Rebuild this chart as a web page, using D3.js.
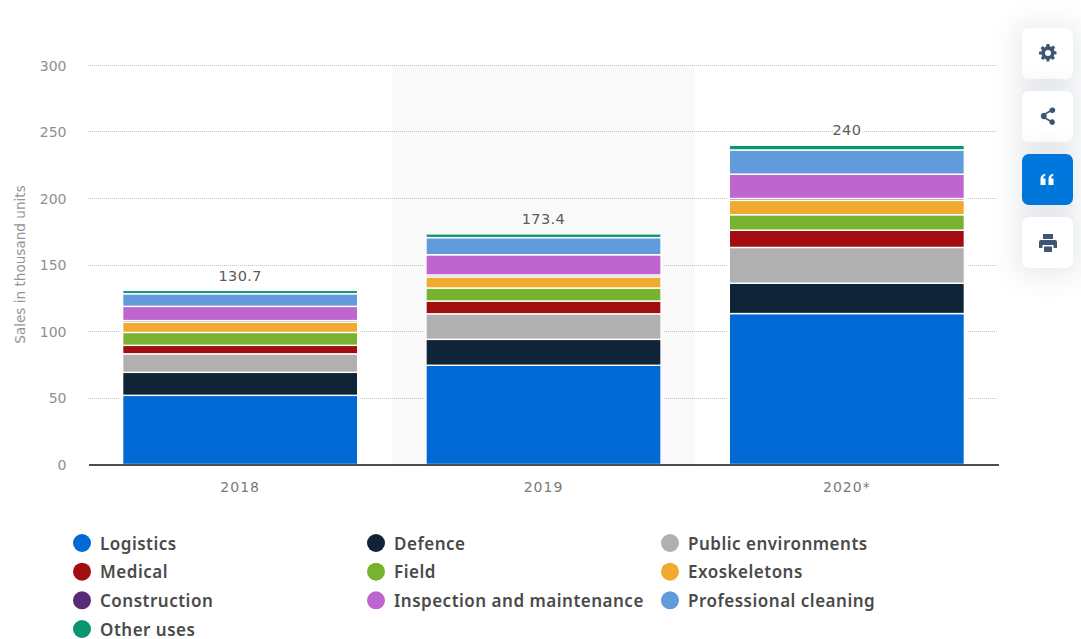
<!DOCTYPE html>
<html>
<head>
<meta charset="utf-8">
<title>Service robot sales by application</title>
<script src="https://cdn.jsdelivr.net/npm/d3@7/dist/d3.min.js"></script>
<style>
  html, body { margin: 0; padding: 0; background: #fff; overflow: hidden; }
  #stage { position: relative; width: 1081px; height: 639px; }
  svg { position: absolute; left: 0; top: 0; }
  .tool {
    position: absolute; left: 1022px; width: 51px; height: 51px; border-radius: 7px;
    background: #fff; box-shadow: 0 2px 28px 6px rgba(40,60,90,.11);
  }
  .tool.active { background: #0077dc; }
  .tool svg { left: 15.5px; top: 15.5px; }
</style>
</head>
<body>
<div id="stage"></div>
<script>
// Sales per year and application, thousand units
const years = ["2018", "2019", "2020*"];
const totals = [130.7, 173.4, 240];
const seriesNames = ["Logistics", "Defence", "Public environments", "Medical", "Field", "Exoskeletons",
  "Construction", "Inspection and maintenance", "Professional cleaning", "Other uses"];
const seriesColors = ["#0069d4", "#0f2437", "#b0b0b0", "#a20d12", "#78b22f", "#efaa2f",
  "#5a2a77", "#bf65cf", "#629bdc", "#08966f"];
const logistics = [52, 74.6, 113.5];
const defence = [17.3, 19.5, 22.8];
const publicEnvironments = [13.9, 19.2, 26.9];
const medical = [6.4, 9.6, 13];
const field = [9.7, 9.8, 11.6];
const exoskeletons = [7.6, 8.4, 10.8];
const construction = [1.3, 1.4, 1.4];
const inspection = [10.7, 15.2, 18.3];
const cleaning = [9.5, 12.9, 18.2];
const otherUses = [2.5, 2.8, 3.5];
const yTicks = [0, 50, 100, 150, 200, 250, 300];

const seriesValues = [logistics, defence, publicEnvironments, medical, field, exoskeletons,
  construction, inspection, cleaning, otherUses];
const rows = years.map((year, i) => {
  const row = { year };
  seriesNames.forEach((name, s) => { row[name] = seriesValues[s][i]; });
  return row;
});

const width = 1081, height = 639;
const margin = { left: 88.5, right: 82.5, top: 65.5, bottom: 174.5 };
const tickFont = "'DejaVu Sans', sans-serif";

const stage = d3.select("#stage");
const svg = stage.append("svg").attr("width", width).attr("height", height);

const x = d3.scaleBand().domain(years)
  .range([margin.left, width - margin.right])
  .paddingInner(0.225).paddingOuter(0.1125);
const y = d3.scaleLinear().domain([0, 300]).range([height - margin.bottom, margin.top]);
const stacked = d3.stack().keys(seriesNames)(rows);

// Shaded column behind the middle year
const step = x.step();
svg.append("rect")
  .attr("x", x("2019") + x.bandwidth() / 2 - step / 2)
  .attr("width", step)
  .attr("y", y(300))
  .attr("height", y(0) - y(300))
  .attr("fill", "#f9f9f9");

// Dotted horizontal grid, snapped to whole pixels so the dots stay crisp
svg.append("g").selectAll("line")
  .data(yTicks.filter(d => d > 0))
  .join("line")
  .attr("x1", Math.floor(margin.left)).attr("x2", Math.floor(width - margin.right))
  .attr("y1", d => Math.floor(y(d)) + 0.5).attr("y2", d => Math.floor(y(d)) + 0.5)
  .attr("stroke", "#c4c4c4").attr("stroke-width", 1)
  .attr("stroke-dasharray", "1 1");

// Clear the grid just around each bar
svg.append("g").selectAll("rect")
  .data(years.map((year, i) => ({ year, total: totals[i] })))
  .join("rect")
  .attr("x", d => x(d.year) - 2.5)
  .attr("width", x.bandwidth() + 5)
  .attr("y", d => y(d.total))
  .attr("height", d => y(0) - y(d.total))
  .attr("fill", d => d.year === "2019" ? "#f9f9f9" : "#fff");

// Stacked segments
svg.append("g").selectAll("g")
  .data(stacked)
  .join("g")
  .attr("fill", (d, i) => seriesColors[i])
  .selectAll("rect")
  .data(d => d)
  .join("rect")
  .attr("x", d => x(d.data.year))
  .attr("width", x.bandwidth())
  .attr("y", d => y(d[1]))
  .attr("height", d => y(d[0]) - y(d[1]))
  .attr("stroke", "#fff")
  .attr("stroke-width", 1.4);

// Totals above the bars
svg.append("g").selectAll("text")
  .data(years.map((year, i) => ({ year, total: totals[i] })))
  .join("text")
  .attr("x", d => x(d.year) + x.bandwidth() / 2)
  .attr("y", d => y(d.total) - 10)
  .attr("text-anchor", "middle")
  .attr("font-family", tickFont)
  .attr("font-size", 14.5)
  .attr("letter-spacing", 0.4)
  .attr("fill", "#5a5a5a")
  .attr("stroke", d => d.year === "2019" ? "#f9f9f9" : "#fff")
  .attr("stroke-width", 4)
  .attr("paint-order", "stroke")
  .text(d => d.total);

// Axes
const yAxis = svg.append("g")
  .attr("transform", `translate(${margin.left},0)`)
  .call(d3.axisLeft(y).tickValues(yTicks).tickSize(0).tickPadding(22));
yAxis.select(".domain").remove();
yAxis.selectAll("text")
  .attr("font-family", tickFont).attr("font-size", 14).attr("dy", "0.34em").attr("fill", "#8f8f8f");

const xAxis = svg.append("g")
  .attr("transform", `translate(0,${y(0)})`)
  .call(d3.axisBottom(x).tickSize(0).tickPadding(18));
xAxis.select(".domain").attr("stroke", "#111").attr("stroke-width", 1.6);
xAxis.selectAll("text")
  .attr("font-family", tickFont).attr("font-size", 14).attr("letter-spacing", 1).attr("fill", "#7a7a7a");

// Value axis title
svg.append("text")
  .attr("transform", "translate(25,264.5) rotate(-90)")
  .attr("text-anchor", "middle")
  .attr("font-family", tickFont)
  .attr("font-size", 13.6)
  .attr("fill", "#949494")
  .text("Sales in thousand units");

// Legend, three columns filled row by row
const legendX = d3.scalePoint().domain([0, 1, 2]).range([82, 670]);
const legendY = d3.scalePoint().domain([0, 1, 2, 3]).range([543, 629]);
const legend = svg.append("g").selectAll("g")
  .data(seriesNames)
  .join("g")
  .attr("transform", (d, i) => `translate(${legendX(i % 3)},${legendY(Math.floor(i / 3))})`);
legend.append("circle").attr("r", 9).attr("fill", (d, i) => seriesColors[i]);
legend.append("text")
  .attr("x", 18).attr("y", 6.5)
  .attr("font-family", "'Noto Sans', sans-serif")
  .attr("font-size", 17)
  .attr("font-weight", 600)
  .attr("letter-spacing", 0.5)
  .attr("fill", "#4a4a4a")
  .text(d => d);

// Toolbar on the right edge
const toolIcons = [
  { top: 27.5, active: false, path: "M8.6 1h2.8l.4 2.300 1.300.6 2-1.300 2 2-1.300 2 .6 1.300 2.100.5v2.800l-2.300.4-.6 1.300 1.300 2-2 2-2-1.300-1.300.6-.4 2.300H8.600l-.4-2.300-1.300-.6-2 1.300-2-2 1.300-2-.6-1.300L1 11.600V8.800l2.300-.4.6-1.300-1.300-2 2-2 2 1.300 1.300-.6zM10 7a3 3 0 1 0 0 6 3 3 0 0 0 0-6z" },
  { top: 90.5, active: false, path: "M14.500 1.500a2.800 2.800 0 1 1-2.300 4.400L8.300 8.300a3 3 0 0 1 0 3.400l3.900 2.400a2.800 2.800 0 1 1-.8 1.500L7.200 13.100a3.300 3.300 0 1 1 0-6.200l4.200-2.500a2.800 2.800 0 0 1 3.100-2.900z" },
  { top: 153.5, active: true, path: "M2.500 16V10c0-3 1.900-5 4.700-5.300v2C5.900 7 5.200 8 5.200 9.500h2.300V16zM10.500 16V10c0-3 1.900-5 4.700-5.300v2c-1.300.3-2 1.300-2 2.800h2.300V16z" },
  { top: 217, active: false, path: "M5 1h10v5H5zM3 7h14a2 2 0 0 1 2 2v6h-3.500v-3h-11v3H1V9a2 2 0 0 1 2-2zM6 13.500h8V19H6z" }
];
const tools = stage.selectAll("div.tool")
  .data(toolIcons)
  .join("div")
  .attr("class", d => d.active ? "tool active" : "tool")
  .style("top", d => d.top + "px");
tools.append("svg")
  .attr("width", 20).attr("height", 20).attr("viewBox", "0 0 20 20")
  .append("path")
  .attr("fill-rule", "evenodd")
  .attr("d", d => d.path)
  .attr("fill", d => d.active ? "#fff" : "#3c5674");
</script>
</body>
</html>
